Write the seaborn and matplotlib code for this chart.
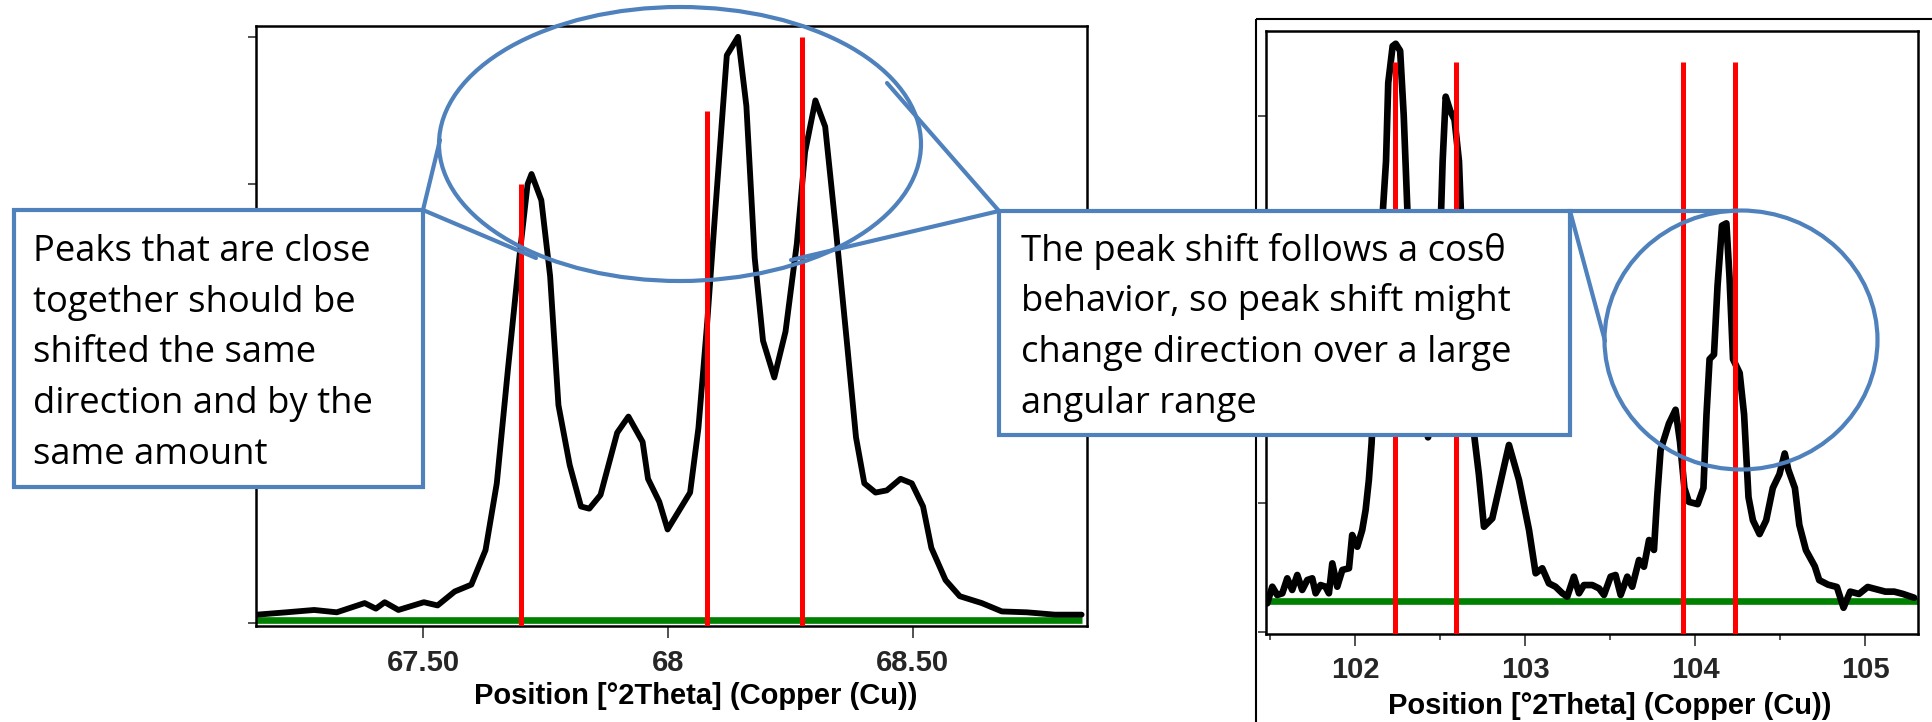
import numpy as np
import pandas as pd
import matplotlib
matplotlib.use("Agg")
import matplotlib.pyplot as plt
import seaborn as sns
from matplotlib.patches import Rectangle, Ellipse

# ---------------- data ----------------
left_pos = [67.160, 67.220, 67.277, 67.323, 67.380, 67.403, 67.421, 67.449, 67.501, 67.529,
            67.564, 67.598, 67.627, 67.650, 67.673, 67.696, 67.713, 67.721, 67.741, 67.759,
            67.776, 67.799, 67.822, 67.839, 67.862, 67.896, 67.919, 67.948, 67.959, 67.982,
            67.999, 68.022, 68.045, 68.062, 68.080, 68.097, 68.120, 68.143, 68.160, 68.177,
            68.194, 68.217, 68.240, 68.263, 68.280, 68.301, 68.321, 68.343, 68.366, 68.384,
            68.401, 68.424, 68.447, 68.475, 68.498, 68.521, 68.538, 68.567, 68.596, 68.641,
            68.682, 68.733, 68.790, 68.845]
left_int = [0.057, 0.073, 0.089, 0.073, 0.136, 0.098, 0.142, 0.089, 0.142, 0.120,
            0.215, 0.262, 0.498, 0.954, 1.740, 2.494, 2.998, 3.067, 2.888, 2.369,
            1.488, 1.079, 0.796, 0.781, 0.875, 1.300, 1.410, 1.237, 0.985, 0.828,
            0.639, 0.765, 0.891, 1.331, 2.054, 2.840, 3.878, 4.004, 3.532, 2.494,
            1.928, 1.677, 1.991, 2.589, 3.218, 3.570, 3.391, 2.683, 1.897, 1.268,
            0.954, 0.891, 0.906, 0.985, 0.954, 0.796, 0.513, 0.293, 0.183, 0.136,
            0.079, 0.073, 0.057, 0.057]
left_ref_pos = [67.700, 68.080, 68.273]
left_ref_int = [3.00, 3.50, 4.00]
left_bg_level = 0.02
left_bg_span = [67.158, 68.845]

right_pos = [101.482, 101.512, 101.541, 101.571, 101.600, 101.629, 101.659, 101.688, 101.718, 101.747,
             101.767, 101.796, 101.825, 101.845, 101.865, 101.894, 101.924, 101.963, 101.982, 102.012,
             102.041, 102.061, 102.080, 102.096, 102.129, 102.155, 102.181, 102.194, 102.220, 102.238,
             102.264, 102.285, 102.306, 102.337, 102.376, 102.428, 102.467, 102.493, 102.514, 102.532,
             102.558, 102.584, 102.610, 102.636, 102.662, 102.701, 102.727, 102.757, 102.806, 102.904,
             102.963, 103.022, 103.061, 103.100, 103.139, 103.178, 103.218, 103.247, 103.286, 103.316,
             103.345, 103.394, 103.434, 103.463, 103.502, 103.531, 103.561, 103.600, 103.629, 103.669,
             103.698, 103.728, 103.757, 103.776, 103.796, 103.845, 103.884, 103.910, 103.936, 103.962,
             104.014, 104.048, 104.066, 104.084, 104.110, 104.131, 104.157, 104.183, 104.201, 104.222,
             104.261, 104.287, 104.313, 104.339, 104.378, 104.417, 104.456, 104.495, 104.526, 104.547,
             104.586, 104.612, 104.651, 104.703, 104.729, 104.781, 104.833, 104.872, 104.911, 104.963,
             105.014, 105.066, 105.118, 105.170, 105.222, 105.287]
right_int = [0.222, 0.351, 0.287, 0.300, 0.416, 0.326, 0.442, 0.326, 0.403, 0.416,
             0.300, 0.364, 0.351, 0.300, 0.532, 0.351, 0.481, 0.494, 0.752, 0.661,
             0.791, 0.946, 1.178, 1.463, 2.401, 3.114, 3.650, 4.257, 4.542, 4.560,
             4.506, 4.007, 3.293, 2.401, 1.865, 1.509, 1.687, 2.758, 3.650, 4.150,
             4.042, 3.971, 3.650, 2.758, 2.044, 1.509, 1.223, 0.816, 0.881, 1.450,
             1.178, 0.791, 0.455, 0.494, 0.377, 0.351, 0.300, 0.274, 0.429, 0.300,
             0.364, 0.364, 0.338, 0.287, 0.429, 0.442, 0.287, 0.429, 0.351, 0.558,
             0.506, 0.713, 0.636, 1.049, 1.411, 1.616, 1.723, 1.473, 1.116, 1.009,
             0.991, 1.116, 1.687, 2.115, 2.151, 2.686, 3.150, 3.168, 2.758, 2.115,
             2.008, 1.687, 1.045, 0.866, 0.759, 0.866, 1.116, 1.223, 1.384, 1.259,
             1.116, 0.830, 0.634, 0.509, 0.402, 0.367, 0.349, 0.188, 0.313, 0.295,
             0.349, 0.331, 0.313, 0.313, 0.295, 0.266]
right_ref_pos = [102.235, 102.595, 103.925, 104.233]
right_ref_int = [4.42, 4.42, 4.42, 4.42]
right_bg_level = 0.24

left_ticks = [67.5, 68.0, 68.5]
left_tick_labels = ["67.50", "68", "68.50"]
right_ticks = [102, 103, 104, 105]
right_tick_labels = ["102", "103", "104", "105"]
right_minor_ticks = [101.5, 102.5, 103.5, 104.5]
y_ticks = [0, 1, 2, 3, 4]
x_label = "Position [°2Theta] (Copper (Cu))"

note_left = ["Peaks that are close", "together should be", "shifted the same",
             "direction and by the", "same amount"]
note_right = ["The peak shift follows a cos\u03b8", "behavior, so peak shift might",
              "change direction over a large", "angular range"]

# ---------------- styling ----------------
sns.set_theme(style="ticks")
plt.rcParams['font.family'] = ['Liberation Sans', 'DejaVu Sans']

BLUE = "#4F81BD"
GREEN = "#008000"
RED = "#FF0000"
W, H = 1933, 722

fig = plt.figure(figsize=(W / 100, H / 100), dpi=100, facecolor="white")


def rect(l, t, r, b):
    return [l / W, 1 - b / H, (r - l) / W, (b - t) / H]


axL = fig.add_axes(rect(256, 26, 1087, 626))
axR = fig.add_axes(rect(1266, 31, 1918, 634))

# left panel
axL.set_xlim(67.158, 68.856)
axL.set_ylim(-0.0205, 4.078)
axL.hlines(left_bg_level, left_bg_span[0], left_bg_span[1], color=GREEN, lw=4.8, zorder=2)
sns.lineplot(x=left_pos, y=left_int, ax=axL, color="black", lw=4.2, zorder=3,
             estimator=None, sort=False, legend=False)
axL.vlines(left_ref_pos, axL.get_ylim()[0], left_ref_int, color=RED, lw=3.6, zorder=4)
axL.set_xticks(left_ticks)
axL.set_xticklabels(left_tick_labels)

# right panel
axR.set_xlim(101.475, 105.31)
axR.set_ylim(-0.0155, 4.659)
axR.axhline(right_bg_level, color=GREEN, lw=4.8, zorder=2)
sns.lineplot(x=right_pos, y=right_int, ax=axR, color="black", lw=4.8, zorder=3,
             estimator=None, sort=False, legend=False)
axR.vlines(right_ref_pos, axR.get_ylim()[0], right_ref_int, color=RED, lw=3.6, zorder=4)
axR.set_xticks(right_ticks)
axR.set_xticklabels(right_tick_labels)
axR.set_xticks(right_minor_ticks, minor=True)

for ax, pad, lab_xy in ((axL, 7.8, (0.5295, -0.093)), (axR, 7.2, (0.527, -0.0955))):
    ax.set_facecolor("white")
    for s in ax.spines.values():
        s.set_visible(True)
        s.set_color("black")
        s.set_linewidth(1.8)
    ax.set_yticks(y_ticks)
    ax.tick_params(axis="y", direction="out", length=6, width=1.2, color="#333333",
                   labelleft=False)
    ax.tick_params(axis="x", which="major", direction="out", length=8.5, width=1.2,
                   color="#333333", pad=pad, labelsize=21)
    ax.tick_params(axis="x", which="minor", direction="out", length=4, width=1.2,
                   color="#333333")
    for t in ax.get_xticklabels():
        t.set_fontweight("bold")
    ax.set_xlabel(x_label, fontsize=21, fontweight="bold", color="black")
    ax.xaxis.set_label_coords(*lab_xy)
    ax.set_ylabel("")

# ---------------- overlay: callouts ----------------
ov = fig.add_axes([0, 0, 1, 1], zorder=10)
ov.set_xlim(0, W)
ov.set_ylim(H, 0)
ov.axis("off")
ov.patch.set_alpha(0)

# frame of the right screenshot
ov.plot([1256, 1256], [19, H], color="black", lw=1.5, zorder=1, solid_capstyle="butt")
ov.plot([1256, W], [19, 19], color="black", lw=1.5, zorder=1, solid_capstyle="butt")

lw_c = 3.0
ov.add_patch(Ellipse((680, 144), 482, 274, fill=False, ec=BLUE, lw=lw_c, zorder=2))
ov.add_patch(Ellipse((1741, 340), 273, 259, fill=False, ec=BLUE, lw=lw_c, zorder=2))

# tails
ov.plot([440, 423, 536], [140, 210, 258], color=BLUE, lw=lw_c, zorder=2, solid_joinstyle="miter")
ov.plot([887, 999, 791], [83, 211, 260], color=BLUE, lw=lw_c, zorder=2, solid_joinstyle="miter")
ov.plot([1737, 1570, 1605], [211, 211, 341], color=BLUE, lw=lw_c, zorder=2, solid_joinstyle="miter")

ov.add_patch(Rectangle((14, 210), 409, 277, fc="white", ec=BLUE, lw=lw_c, zorder=3))
ov.add_patch(Rectangle((999, 211), 571, 224, fc="white", ec=BLUE, lw=lw_c, zorder=3))

fam = ["Open Sans", "DejaVu Sans"]
for i, line in enumerate(note_left):
    ov.text(33, 261 + 50.75 * i, line, fontsize=26.2, family=fam, color="black",
            ha="left", va="baseline", zorder=4)
for i, line in enumerate(note_right):
    ov.text(1021, 261 + 50.5 * i, line, fontsize=26.2, family=fam, color="black",
            ha="left", va="baseline", zorder=4)

fig.savefig("out.png", dpi=100, facecolor="white")
